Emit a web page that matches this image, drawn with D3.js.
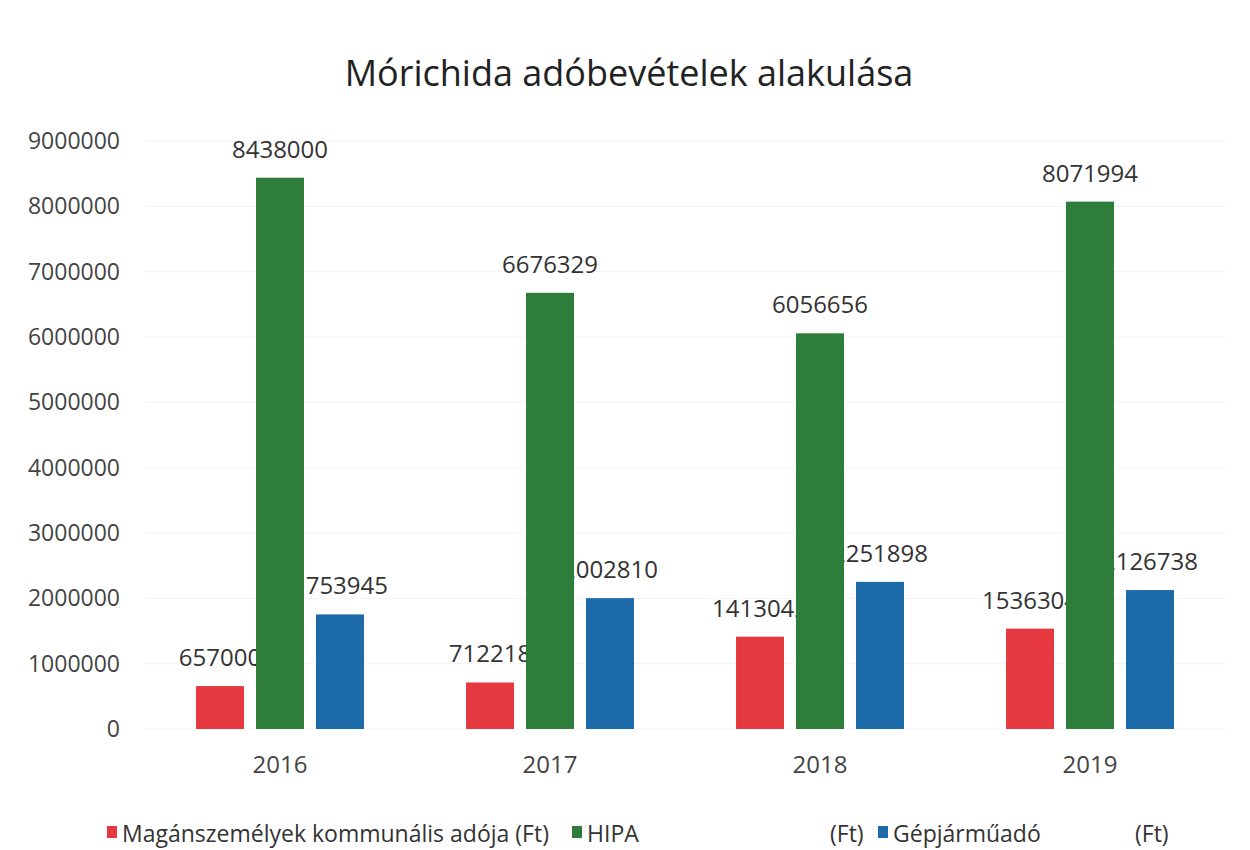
<!DOCTYPE html>
<html>
<head>
<meta charset="utf-8">
<script src="https://cdn.jsdelivr.net/npm/d3@7"></script>
<style>
  body { margin: 0; background: #fff; }
  text { font-family: "Open Sans", "Noto Sans", sans-serif; }
</style>
</head>
<body>
<div id="chart"></div>
<script>
// adatok
var years = ["2016", "2017", "2018", "2019"];
var seriesNames = ["Magánszemélyek kommunális adója", "HIPA", "Gépjárműadó"];
var kommunalis = [657000, 712218, 1413042, 1536304];
var hipa = [8438000, 6676329, 6056656, 8071994];
var gepjarmu = [1753945, 2002810, 2251898, 2126738];
var yTicks = [0, 1000000, 2000000, 3000000, 4000000, 5000000, 6000000, 7000000, 8000000, 9000000];
var colors = ["#e5393f", "#2f7d3b", "#1c6aa8"];

var W = 1250, H = 850;
var margin = { top: 141, right: 25, bottom: 121, left: 145 },
  width = W - margin.left - margin.right,
  height = H - margin.top - margin.bottom;

var svg = d3.select("#chart")
  .append("svg")
  .attr("width", W)
  .attr("height", H)
  .append("g")
  .attr("transform", "translate(" + margin.left + "," + margin.top + ")");

var allSeries = [kommunalis, hipa, gepjarmu];

var x0 = d3.scaleBand().domain(years).range([0, width]).paddingInner(0.378).paddingOuter(0.189);
var x1 = d3.scaleBand().domain([0, 1, 2]).range([0, x0.bandwidth()]).paddingInner(0.2);
var y = d3.scaleLinear().domain([0, 9000000]).range([height, 0]);

// rácsvonalak
svg.selectAll(".grid")
  .data(yTicks)
  .enter().append("line")
  .attr("x1", 0)
  .attr("x2", width)
  .attr("y1", function (d) { return y(d); })
  .attr("y2", function (d) { return y(d); })
  .attr("stroke", "#f3f3f3")
  .attr("stroke-width", 1);

// Y tengely
var yAxis = svg.append("g")
  .call(d3.axisLeft(y).tickValues(yTicks).tickSize(0).tickPadding(25).tickFormat(d3.format("d")));
yAxis.select(".domain").remove();
yAxis.selectAll("text")
  .style("font-size", "23px")
  .style("fill", "#444")
  .style("font-family", "'Open Sans', sans-serif");

// X tengely
var xAxis = svg.append("g")
  .attr("transform", "translate(0," + height + ")")
  .call(d3.axisBottom(x0).tickSize(0).tickPadding(27));
xAxis.select(".domain").remove();
xAxis.selectAll("text")
  .style("font-size", "24px")
  .style("fill", "#444")
  .style("font-family", "'Open Sans', sans-serif");

// feliratok (az oszlopok alá kerülnek, mint az eredetin)
allSeries.forEach(function (vals, s) {
  svg.selectAll(".label" + s)
    .data(vals)
    .enter().append("text")
    .attr("x", function (d, i) { return x0(years[i]) + x1(s) + x1.bandwidth() / 2; })
    .attr("y", function (d) { return y(d) - 20; })
    .attr("text-anchor", "middle")
    .style("font-size", "24px")
    .style("fill", "#333")
    .text(function (d) { return d; });
});

// oszlopok
allSeries.forEach(function (vals, s) {
  svg.selectAll(".bar" + s)
    .data(vals)
    .enter().append("rect")
    .attr("x", function (d, i) { return x0(years[i]) + x1(s); })
    .attr("y", function (d) { return y(d); })
    .attr("width", x1.bandwidth())
    .attr("height", function (d) { return height - y(d); })
    .attr("fill", colors[s]);
});

// cím
svg.append("text")
  .attr("x", W / 2 - margin.left + 4)
  .attr("y", 86 - margin.top)
  .attr("text-anchor", "middle")
  .style("font-size", "36px")
  .style("fill", "#222")
  .text("Mórichida adóbevételek alakulása");

// jelmagyarázat
var legendX = [107, 572, 878];
var ftX = [null, 830, 1135];
var legend = svg.append("g").attr("transform", "translate(" + (-margin.left) + "," + (-margin.top) + ")");
seriesNames.forEach(function (name, s) {
  legend.append("rect")
    .attr("x", legendX[s])
    .attr("y", 826)
    .attr("width", 10)
    .attr("height", 12)
    .attr("fill", colors[s]);
  legend.append("text")
    .attr("x", legendX[s] + 15)
    .attr("y", 842)
    .style("font-size", "23px")
    .style("fill", "#333")
    .text(s === 0 ? name + " (Ft)" : name);
  if (ftX[s] !== null) {
    legend.append("text")
      .attr("x", ftX[s])
      .attr("y", 842)
      .style("font-size", "23px")
      .style("fill", "#333")
      .text("(Ft)");
  }
});
</script>
</body>
</html>
